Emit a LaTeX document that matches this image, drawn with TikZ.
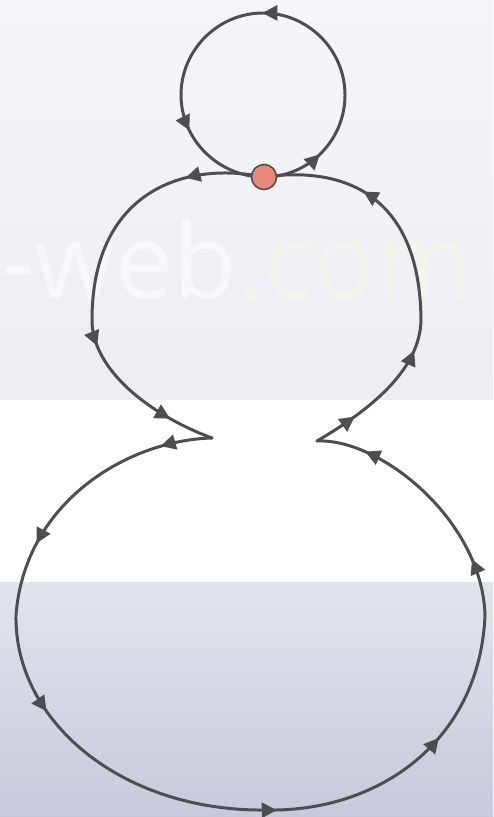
\documentclass[tikz,border=0pt]{standalone}
\usepackage{fontspec}
\newfontfamily\markfont{Open Sans}
\usetikzlibrary{arrows.meta,decorations.markings}
\definecolor{inkgray}{HTML}{4E4E52}
\definecolor{dotfill}{HTML}{E8897A}
\definecolor{bgtop}{HTML}{F5F6F9}
\definecolor{bgmid}{HTML}{EDEEF3}
\definecolor{bglowa}{HTML}{E1E5EB}
\definecolor{bglowb}{HTML}{C6CADB}
\definecolor{markyellow}{HTML}{F7F9E6}

\begin{document}
\begin{tikzpicture}[
    x=0.02cm, y=-0.02cm,
    loop/.style={draw=inkgray, line width=1.7pt, line cap=round},
    tip/.style={postaction={decorate, decoration={markings, mark=at position #1 with {\arrow[inkgray]{Triangle[length=3mm, width=3mm]}}}}},
    hub/.style={circle, draw=inkgray, line width=0.9pt, fill=dotfill, minimum size=0.5cm, inner sep=0pt},
    wmark/.style={anchor=base west, inner sep=0pt, text opacity=0.55, font=\markfont\fontsize{59}{59}\selectfont}
  ]
    \useasboundingbox (0,0) rectangle (493,817);
    \shade[top color=bgtop, bottom color=bgmid] (0,0) rectangle (493,400);
    \fill[white] (0,400) rectangle (493,582);
    \shade[top color=bglowa, bottom color=bglowb] (0,582) rectangle (493,817);
    \node[wmark] (wm) at (1,298) {\textcolor{white}{-web}\textcolor{markyellow}{.com}};

    \coordinate (hubpt) at (264,177);
    \coordinate (headR) at (345,95);
    \coordinate (headT) at (263,13);
    \coordinate (headL) at (181,95);
    \coordinate (midL) at (92,320);
    \coordinate (cuspL) at (212,438);
    \coordinate (baseL) at (16,615);
    \coordinate (baseB) at (267,810);
    \coordinate (baseR) at (485,615);
    \coordinate (cuspR) at (317,441);
    \coordinate (midR) at (421,320);

    \draw[loop, tip=0.12, tip=0.5, tip=0.82] (hubpt) .. controls (309,177) and (345,140) .. (headR)
      .. controls (345,50) and (308,13) .. (headT)
      .. controls (218,13) and (181,50) .. (headL)
      .. controls (181,140) and (219,177) .. (hubpt);
    \draw[loop, tip=0.3] (hubpt) .. controls (180,160) and (92,195) .. (midL);
    \draw[loop, tip=0.15, tip=0.74] (midL) .. controls (92,370) and (150,415) .. (cuspL);
    \draw[loop, tip=0.18, tip=0.74] (cuspL) .. controls (130,440) and (25,500) .. (baseL);
    \draw[loop, tip=0.29] (baseL) .. controls (14,720) and (120,812) .. (baseB);
    \draw[loop, tip=0.03, tip=0.59] (baseB) .. controls (380,812) and (480,740) .. (baseR);
    \draw[loop, tip=0.22, tip=0.81] (baseR) .. controls (482,520) and (380,438) .. (cuspR);
    \draw[loop, tip=0.27, tip=0.81] (cuspR) .. controls (370,410) and (420,370) .. (midR);
    \draw[loop, tip=0.59] (midR) .. controls (420,200) and (350,165) .. (hubpt);

    \node[hub] (dot) at (hubpt) {};
  \end{tikzpicture}
\end{document}
